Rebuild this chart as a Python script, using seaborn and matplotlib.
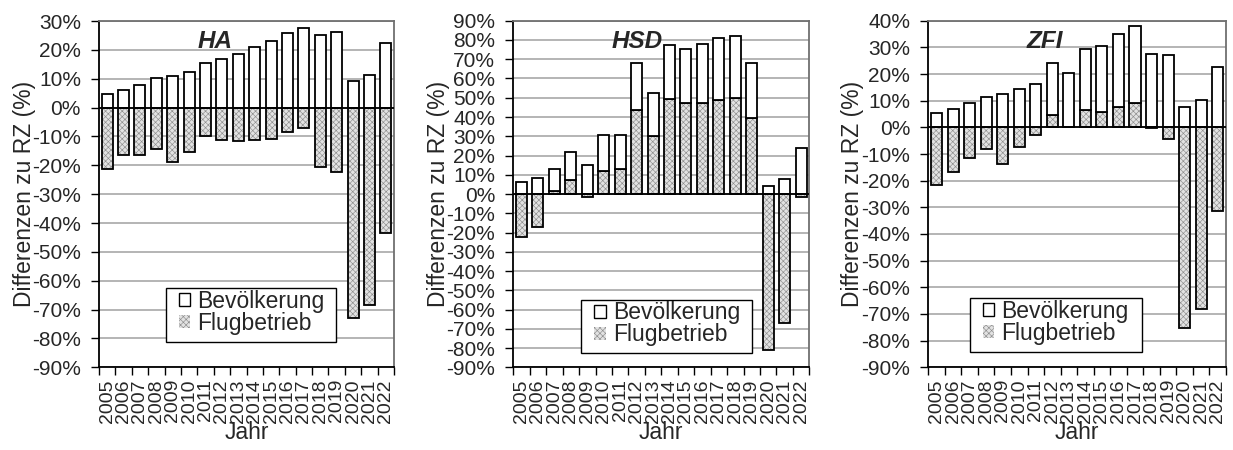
import matplotlib
matplotlib.use("Agg")
import matplotlib.pyplot as plt
from matplotlib.ticker import FuncFormatter, MultipleLocator, FixedLocator
from matplotlib.patches import Patch, Rectangle
import seaborn as sns
import pandas as pd
import numpy as np

# Jahre
years = [str(y) for y in range(2005, 2023)]

# Differenzen zu RZ in Prozent je Flughafen
ha_flug = [-21.4, -16.4, -16.4, -14.4, -18.7, -15.3, -9.7, -11.1, -11.7, -11.3,
           -11.0, -8.5, -7.2, -20.7, -22.2, -72.8, -68.4, -43.4]
ha_bev = [4.8, 6.2, 7.8, 10.1, 11.1, 12.5, 15.6, 17.0, 18.7, 20.9,
          23.0, 26.0, 27.5, 25.3, 26.3, 9.3, 11.3, 22.3]

hsd_flug = [-22.5, -17.0, 1.4, 7.1, -1.7, 11.8, 13.2, 43.6, 30.0, 49.5,
            47.3, 47.3, 49.0, 49.9, 39.3, -81.0, -66.7, -1.6]
hsd_bev = [6.4, 8.1, 11.6, 14.5, 15.2, 19.0, 17.4, 24.3, 22.6, 27.7,
           28.2, 30.8, 32.2, 32.4, 28.9, 4.2, 7.6, 23.9]

zfi_flug = [-21.6, -16.75, -11.4, -8.1, -13.9, -7.25, -3.0, 4.6, 0.25, 6.4,
            5.75, 7.75, 9.0, -0.25, -4.4, -75.1, -68.0, -31.25]
zfi_bev = [5.25, 6.75, 9.0, 11.4, 12.4, 14.25, 16.1, 19.4, 20.15, 22.85,
           24.75, 27.35, 29.1, 27.4, 27.1, 7.75, 10.4, 22.75]

airports = ["HA", "HSD", "ZFI"]
flug_values = [ha_flug, hsd_flug, zfi_flug]
bev_values = [ha_bev, hsd_bev, zfi_bev]
y_tops = [30, 90, 40]
y_bottom = -90

sns.set_style("white")
plt.rcParams["font.family"] = ["Liberation Sans", "DejaVu Sans"]
plt.rcParams["axes.unicode_minus"] = False
plt.rcParams["hatch.linewidth"] = 0.45

W, H = 1233, 450
fig = plt.figure(figsize=(W / 100, H / 100), dpi=100)

# Achsenrahmen in Pixeln: links, rechts, oben, unten
frames = [(99, 394, 21, 367.3), (513.3, 809.3, 20.7, 367.4), (928.3, 1226, 20.7, 367.3)]
# Legendenrahmen in Pixeln: links, rechts, oben, unten
legend_boxes = [(166, 335.7, 288.3, 341.7), (581, 752.3, 300, 353.3),
                (970, 1141.7, 298.3, 351.7)]
# linke Kante des ersten Legendensymbols in Pixeln
legend_handle_x = [179, 594.3, 982.7]
title_x = [0.393, 0.42, 0.392]

bar_w = 0.67
hatch_face = "#e2e2e2"
hatch_col = "#8e8e8e"
hatch = "xxxxxx"

for i, name in enumerate(airports):
    l, r, t, b = frames[i]
    ax = fig.add_axes([l / W, 1 - b / H, (r - l) / W, (b - t) / H])

    def px_to_ax(x, y):
        return (x - l) / (r - l), (b - y) / (b - t)

    df = pd.DataFrame({"Jahr": years,
                       "Flugbetrieb": flug_values[i],
                       "Bevölkerung": bev_values[i]})
    base = np.clip(df["Flugbetrieb"].to_numpy(), 0, None)

    # Flugbetrieb: gemustert, von 0 aus
    sns.barplot(data=df, x="Jahr", y="Flugbetrieb", ax=ax, width=bar_w,
                color=hatch_face, edgecolor=hatch_col, linewidth=0,
                hatch=hatch, errorbar=None, zorder=2, saturation=1)
    sns.barplot(data=df, x="Jahr", y="Flugbetrieb", ax=ax, width=bar_w,
                fill=False, edgecolor="black", linewidth=1.3,
                errorbar=None, zorder=3)
    # Bevölkerung: weiß, auf positiven Flugbetrieb gestapelt
    sns.barplot(data=df, x="Jahr", y="Bevölkerung", ax=ax, width=bar_w,
                bottom=base, color="white", edgecolor="black", linewidth=1.3,
                errorbar=None, zorder=3, saturation=1)

    ax.set_xlim(-0.5, len(years) - 0.5)
    ax.set_ylim(y_bottom, y_tops[i])
    ax.yaxis.set_major_locator(MultipleLocator(10))
    ax.yaxis.set_major_formatter(FuncFormatter(lambda v, p: f"{v:.0f}%"))
    ax.grid(axis="y", color="#a0a0a0", linewidth=1.1, zorder=0)
    ax.grid(axis="x", visible=False)
    ax.set_axisbelow(True)
    ax.axhline(0, color="black", linewidth=1.3, zorder=4)

    # Jahresbeschriftung mittig, Teilstriche an den Kategoriegrenzen
    ax.set_xticks(range(len(years)))
    ax.set_xticklabels(years, rotation=90)
    ax.xaxis.set_minor_locator(FixedLocator(np.arange(-0.5, len(years), 1.0)))
    ax.tick_params(axis="x", which="major", length=0, pad=8.5, labelsize=14)
    ax.tick_params(axis="x", which="minor", length=6, width=1, color="black",
                   direction="out", bottom=True)
    ax.tick_params(axis="y", which="major", length=6, width=1, color="black",
                   direction="out", left=True, pad=7, labelsize=15)

    for side in ("left", "bottom"):
        ax.spines[side].set_color("black")
        ax.spines[side].set_linewidth(1.3)
    for side in ("top", "right"):
        ax.spines[side].set_color("#707070")
        ax.spines[side].set_linewidth(1.3)

    ax.set_xlabel("Jahr", fontsize=16.5)
    ax.xaxis.set_label_coords(0.5, px_to_ax(0, 421)[1])
    ax.set_ylabel("Differenzen zu RZ (%)", fontsize=16.5)
    ax.yaxis.set_label_coords(-0.215, 0.5)

    ax.text(title_x[i], 0.921, name, transform=ax.transAxes, ha="center",
            va="baseline", fontsize=17.5, fontweight="bold", fontstyle="italic",
            zorder=6)

    # Legende mit eigenem Rahmen
    bl, br, bt, bb = legend_boxes[i]
    x0, y0 = px_to_ax(bl, bb)
    x1, y1 = px_to_ax(br, bt)
    ax.add_patch(Rectangle((x0, y0), x1 - x0, y1 - y0, transform=ax.transAxes,
                           facecolor="white", edgecolor="black", linewidth=1.0,
                           zorder=7, clip_on=False))
    handles = [Patch(facecolor="white", edgecolor="black", linewidth=1),
               Patch(facecolor=hatch_face, edgecolor=hatch_col, hatch=hatch,
                     linewidth=0)]
    ax_x, ax_y = px_to_ax(legend_handle_x[i], bt + 1.5)
    leg = ax.legend(handles, ["Bevölkerung", "Flugbetrieb"], loc="upper left",
                    bbox_to_anchor=(ax_x, ax_y), borderaxespad=0,
                    fontsize=16.5, frameon=False, handlelength=0.5,
                    handleheight=0.5, handletextpad=0.3, labelspacing=-0.05,
                    borderpad=0)
    leg.set_zorder(8)

fig.savefig("out.png", dpi=100)
